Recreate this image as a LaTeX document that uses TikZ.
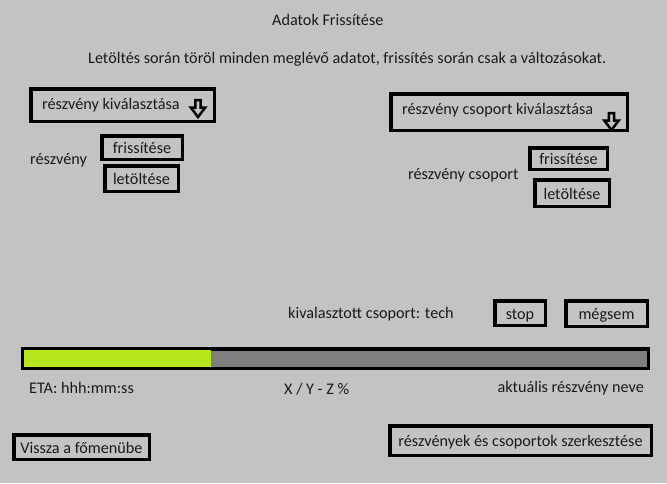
\documentclass[tikz,border=0pt]{standalone}
\usepackage{fontspec}
\setmainfont{Carlito}
\definecolor{bg}{HTML}{C3C3C3}
\definecolor{txt}{HTML}{1A1A1A}
\definecolor{lime}{HTML}{B5E61D}
\definecolor{bargray}{HTML}{7F7F7F}
\begin{document}
\begin{tikzpicture}[x=1pt,y=-1pt,
  font=\fontsize{16.2}{19}\selectfont,
  box/.style={draw=black,line width=3.5pt,inner sep=0pt,text=txt,text height=12.5pt,text depth=0pt},
  lbl/.style={inner sep=0pt,text=txt},
  dnarrow/.pic={\draw[line width=2.5pt,line join=miter] (-2.6,0) -- (2.6,0) -- (2.6,7.5) -- (7.2,7.5) -- (0,17) -- (-7.2,7.5) -- (-2.6,7.5) -- cycle;}
]
\fill[bg] (0,0) rectangle (667,483);
\useasboundingbox (0,0) rectangle (667,483);

\node[lbl,anchor=west] (title) at (272,20) {Adatok Frissítése};
\node[lbl,anchor=west] (info) at (88,59) {Letöltés során töröl minden meglévő adatot, frissítés során csak a változásokat.};

% left column
\node[box,minimum width=183.5pt,minimum height=32.5pt] (selA) at (122.5,105) {};
\node[lbl,anchor=west] (selAt) at (42,105) {részvény kiválasztása};
\pic at (198,100) {dnarrow};
\node[lbl,anchor=west] (rl) at (30,160) {részvény};
\node[box,minimum width=80.5pt,minimum height=23.5pt] (frA) at (142,147.5) {frissítése};
\node[box,minimum width=73.5pt,minimum height=25.5pt] (leA) at (141.5,178.5) {letöltése};

% right column
\node[box,minimum width=236.5pt,minimum height=36.5pt] (selB) at (509,112) {};
\node[lbl,anchor=west] (selBt) at (402,110) {részvény csoport kiválasztása};
\pic at (611.5,113) {dnarrow};
\node[lbl,anchor=west] (rcl) at (408,175) {részvény csoport};
\node[box,minimum width=77.5pt,minimum height=21.5pt] (frB) at (568.5,158.5) {frissítése};
\node[box,minimum width=74.5pt,minimum height=26.5pt] (leB) at (572,193) {letöltése};

% progress area
\node[lbl,anchor=west] (sel) at (288,314) {kivalasztott csoport: tech};
\node[box,minimum width=50.5pt,minimum height=24.5pt] (stop) at (520,313) {stop};
\node[box,minimum width=81.5pt,minimum height=25.5pt] (cancel) at (606.5,313.5) {mégsem};
\node[box,fill=bargray,minimum width=625.5pt,minimum height=19.5pt] (bar) at (335.5,358.5) {};
\fill[lime] (24,350) rectangle (211,367);
\node[lbl,anchor=west] (eta) at (29,388) {ETA: hhh:mm:ss};
\node[lbl,anchor=west] (pct) at (284,389) {X / Y - Z \%};
\node[lbl,anchor=east] (cur) at (644,388) {aktuális részvény neve};

% bottom buttons
\node[box,minimum width=135.5pt,minimum height=24.5pt] (back) at (81.5,447) {Vissza a főmenübe};
\node[box,minimum width=261.5pt,minimum height=29.5pt] (edit) at (520.5,440.5) {részvények és csoportok szerkesztése};
\end{tikzpicture}
\end{document}
